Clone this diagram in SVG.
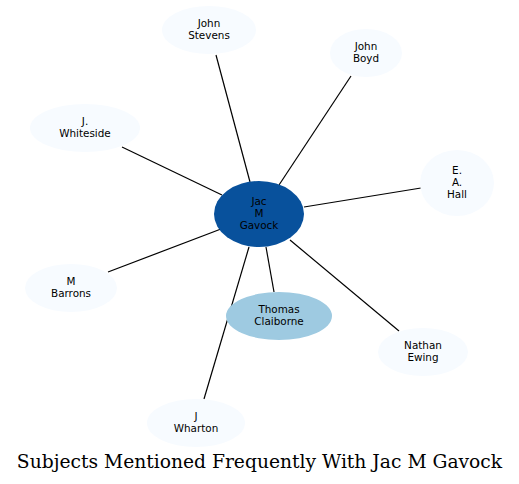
<svg xmlns="http://www.w3.org/2000/svg" width="519" height="484" viewBox="0 0 519 484">
<style>
.n{fill:#f7fbff;stroke:none}
.t{font-family:"DejaVu Sans",sans-serif;font-size:10.4px;fill:#000;text-anchor:middle}
.e{stroke:#000;stroke-width:1.2;fill:none}
.title{font-family:"DejaVu Serif",serif;font-size:18.7px;fill:#000;text-anchor:middle}
</style>
<rect width="519" height="484" fill="#fff"/>
<g id="edges">
<path class="e" d="M250,182 L216,55"/>
<path class="e" d="M279,185 L351,76"/>
<path class="e" d="M222,195 L122,147"/>
<path class="e" d="M304,207 L421,188"/>
<path class="e" d="M221,229 L108,272"/>
<path class="e" d="M266,247 L274,292"/>
<path class="e" d="M290,240 L399,331"/>
<path class="e" d="M249,247 L204,399"/>
</g>
<g id="john_stevens"><ellipse class="n" cx="209" cy="30" rx="47" ry="24"/><text class="t" x="209" y="27">John</text><text class="t" x="209" y="39">Stevens</text></g>
<g id="john_boyd"><ellipse class="n" cx="366" cy="53" rx="36" ry="24"/><text class="t" x="366" y="50">John</text><text class="t" x="366" y="62">Boyd</text></g>
<g id="j_whiteside"><ellipse class="n" cx="85" cy="128" rx="55" ry="24"/><text class="t" x="85" y="125">J.</text><text class="t" x="85" y="137">Whiteside</text></g>
<g id="e_a_hall"><ellipse class="n" cx="457" cy="183" rx="37" ry="33"/><text class="t" x="457" y="174">E.</text><text class="t" x="457" y="186">A.</text><text class="t" x="457" y="198">Hall</text></g>
<g id="jac_m_gavock"><ellipse cx="259" cy="214" rx="45" ry="33" fill="#08519c"/><text class="t" x="259" y="205">Jac</text><text class="t" x="259" y="217">M</text><text class="t" x="259" y="229">Gavock</text></g>
<g id="m_barrons"><ellipse class="n" cx="71" cy="288" rx="46" ry="24"/><text class="t" x="71" y="285">M</text><text class="t" x="71" y="297">Barrons</text></g>
<g id="thomas_claiborne"><ellipse cx="279" cy="316" rx="53" ry="24" fill="#9ecae1"/><text class="t" x="279" y="313">Thomas</text><text class="t" x="279" y="325">Claiborne</text></g>
<g id="nathan_ewing"><ellipse class="n" cx="423" cy="352" rx="45" ry="24"/><text class="t" x="423" y="349">Nathan</text><text class="t" x="423" y="361">Ewing</text></g>
<g id="j_wharton"><ellipse class="n" cx="196" cy="423" rx="49" ry="24"/><text class="t" x="196" y="420">J</text><text class="t" x="196" y="432">Wharton</text></g>
<text class="title" x="259.5" y="468">Subjects Mentioned Frequently With Jac M Gavock</text>
</svg>
